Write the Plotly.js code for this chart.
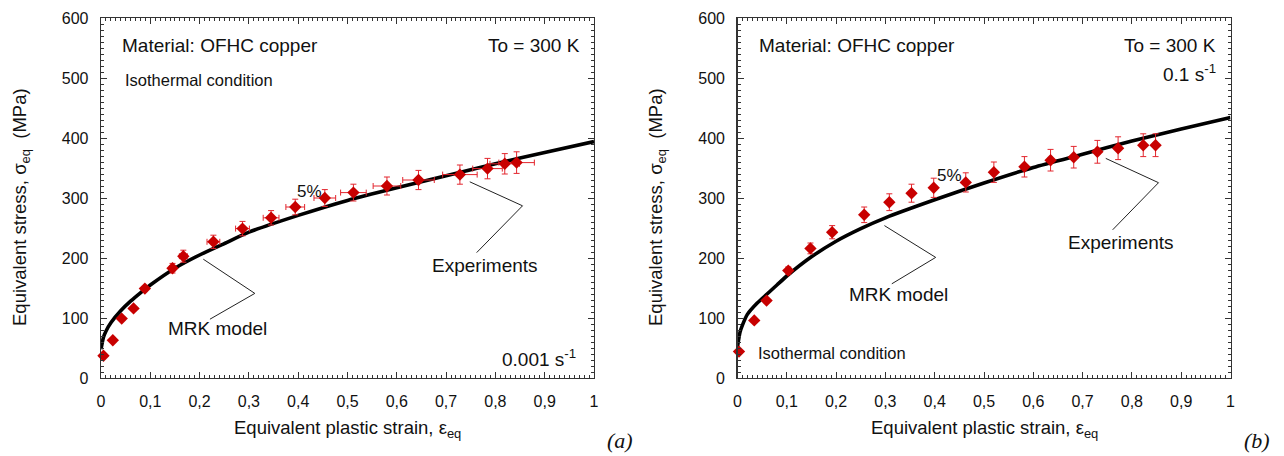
<!DOCTYPE html>
<html>
<head>
<meta charset="utf-8">
<script src="https://cdn.plot.ly/plotly-3.0.1.min.js"></script>
<style>html,body{margin:0;padding:0;background:#fff;}#chart{width:1284px;height:456px;}</style>
</head>
<body>
<div id="chart"></div>
<script>
// ---- Data: (a) 0.001 s^-1 ----
const strainExpA = [0.005,0.024,0.042,0.066,0.089,0.145,0.167,0.228,0.287,0.345,0.394,0.454,0.512,0.580,0.644,0.728,0.784,0.819,0.843];
const stressExpA = [37,63,99,116,149,183,203,227,249,267,285,300,309,320,330,339,349,357,359];
const errStressA = [0,0,0,0,3,8,10,11,12,12,13,14,14,15,16,16,17,17,18];
const errStrainA = [0,0,0,0,0,0.006,0.008,0.013,0.014,0.016,0.019,0.022,0.026,0.028,0.032,0.035,0.030,0.030,0.036];

// ---- Data: (b) 0.1 s^-1 ----
const strainExpB = [0.003,0.034,0.059,0.103,0.148,0.192,0.257,0.308,0.353,0.398,0.463,0.520,0.582,0.635,0.682,0.730,0.772,0.823,0.848];
const stressExpB = [44,96,129,179,216,243,272,293,308,317,326,343,352,363,368,377,383,388,388];
const errStressB = [0,0,0,6,9,11,13,14,15,16,16,17,17,18,18,19,19,19,19];

// ---- MRK model curves ----
const strainModel = [0,0.005,0.01,0.02,0.04,0.06,0.08,0.1,0.15,0.2,0.25,0.3,0.4,0.5,0.6,0.7,0.8,0.9,1.0];
const stressModelA = [48,68,78,92,112,128,142,155,183,205,224,243,271,296,317,337,357,376,394];
const stressModelB = [52,76,88,106,125,140,155,170,202,228,249,267,297,325,351,373,395,415,434];

// ---- Tick labels ----
const xTickVals = [0,0.1,0.2,0.3,0.4,0.5,0.6,0.7,0.8,0.9,1];
const xTickLabels = ["0","0,1","0,2","0,3","0,4","0,5","0,6","0,7","0,8","0,9","1"];
const yTickVals = [0,100,200,300,400,500,600];
const yTickLabels = ["0","100","200","300","400","500","600"];

// intermediate (unlabelled) half-step tick positions
const xHalf = xTickVals.slice(0,-1).map((v,i)=> +((v + xTickVals[i+1]) / 2).toFixed(3));
const yHalf = yTickVals.slice(0,-1).map((v,i)=> (v + yTickVals[i+1]) / 2);

const FONT = 'Liberation Sans, Arial, Helvetica, sans-serif';
const tickFont = {family: FONT, size: 16, color: '#111'};
const AX = '#333';

function xAxis(domain, anchor){
  return {domain, anchor, range:[0,1], tickmode:'array', tickvals:xTickVals, ticktext:xTickLabels,
    ticks:'inside', ticklen:6, tickwidth:1, tickcolor:AX,
    minor:{tickmode:'linear', tick0:0, dtick:0.01, ticks:'inside', ticklen:3, tickwidth:1, tickcolor:AX},
    showline:true, linecolor:AX, linewidth:1.3, mirror:'ticks', showgrid:false, zeroline:false,
    tickfont:tickFont, ticklabelstandoff:8, fixedrange:true};
}
function yAxis(domain, anchor){
  return {domain, anchor, range:[0,600], tickmode:'array', tickvals:yTickVals, ticktext:yTickLabels,
    ticks:'inside', ticklen:6, tickwidth:1, tickcolor:AX,
    minor:{tickmode:'linear', tick0:0, dtick:10, ticks:'inside', ticklen:3, tickwidth:1, tickcolor:AX},
    showline:true, linecolor:AX, linewidth:1.3, mirror:'ticks', showgrid:false, zeroline:false,
    tickfont:tickFont, ticklabelstandoff:8, fixedrange:true};
}
function halfAxis(base, domain, anchor, range, vals){
  return {overlaying:base, domain, anchor, range, tickmode:'array', tickvals:vals,
    ticks:'inside', ticklen:5, tickwidth:1, tickcolor:AX, showticklabels:false,
    showline:false, mirror:'ticks', showgrid:false, zeroline:false, fixedrange:true};
}

const W = 1284, H = 456;
const px = v => v / W, py = v => 1 - v / H;
const yDom = [py(378), py(18)];
const xDomA = [px(101), px(594)], xDomB = [px(737.5), px(1230.5)];

const markerStyle = {symbol:'diamond', size:9.5, color:'#c80000', line:{width:0}};
const errColor = '#e3262e';
const lineStyle = {color:'#000', width:3.6, shape:'spline', smoothing:0.6};

const traces = [
  {x:strainModel, y:stressModelA, xaxis:'x', yaxis:'y', mode:'lines', line:lineStyle, hoverinfo:'skip'},
  {x:strainExpA, y:stressExpA, xaxis:'x', yaxis:'y', mode:'markers', marker:markerStyle, cliponaxis:false,
    error_y:{type:'data', array:errStressA, visible:true, color:errColor, thickness:1, width:3},
    error_x:{type:'data', array:errStrainA, visible:true, color:errColor, thickness:1, width:3}},
  {x:strainModel, y:stressModelB, xaxis:'x2', yaxis:'y2', mode:'lines', line:lineStyle, hoverinfo:'skip'},
  {x:strainExpB, y:stressExpB, xaxis:'x2', yaxis:'y2', mode:'markers', marker:markerStyle, cliponaxis:false,
    error_y:{type:'data', array:errStressB, visible:true, color:errColor, thickness:1, width:3}}
];

const txt = (x, y, text, opts={}) => Object.assign({x, y, text, showarrow:false,
  font:{family:FONT, size:19, color:'#111'}, xanchor:'left', yanchor:'middle'}, opts);
const small = {family:FONT, size:16.5, color:'#111'};
const pct = {family:FONT, size:17, color:'#111'};
const ttl = {family:FONT, size:18.5, color:'#111'};
const serif = {family:'Liberation Serif, Times New Roman, serif', size:22, color:'#111'};

const annotations = [
  // panel (a)
  txt(0.038, 555, 'Material: OFHC copper', {xref:'x', yref:'y'}),
  txt(0.044, 497, 'Isothermal condition', {xref:'x', yref:'y', font:small}),
  txt(0.975, 555, 'To = 300 K', {xref:'x', yref:'y', xanchor:'right'}),
  txt(0.422, 311, '5%', {xref:'x', yref:'y', xanchor:'center', font:pct}),
  txt(0.779, 187, 'Experiments', {xref:'x', yref:'y', xanchor:'center'}),
  txt(0.237, 83, 'MRK model', {xref:'x', yref:'y', xanchor:'center'}),
  txt(0.968, 34, '0.001 s<sup>-1</sup>', {xref:'x', yref:'y', xanchor:'right'}),
  // panel (b)
  txt(0.039, 555, 'Material: OFHC copper', {xref:'x2', yref:'y2'}),
  txt(0.975, 555, 'To = 300 K', {xref:'x2', yref:'y2', xanchor:'right'}),
  txt(0.975, 508, '0.1 s<sup>-1</sup>', {xref:'x2', yref:'y2', xanchor:'right'}),
  txt(0.037, 41, 'Isothermal condition', {xref:'x2', yref:'y2', font:small}),
  txt(0.429, 338, '5%', {xref:'x2', yref:'y2', xanchor:'center', font:pct}),
  txt(0.777, 226, 'Experiments', {xref:'x2', yref:'y2', xanchor:'center'}),
  txt(0.327, 140, 'MRK model', {xref:'x2', yref:'y2', xanchor:'center'}),
  // axis titles
  txt(px(21), py(207), 'Equivalent stress, σ<sub>eq</sub>  (MPa)', {xref:'paper', yref:'paper', xanchor:'center', textangle:-90, font:ttl}),
  txt(px(657), py(207), 'Equivalent stress, σ<sub>eq</sub>  (MPa)', {xref:'paper', yref:'paper', xanchor:'center', textangle:-90, font:ttl}),
  txt(px(348), py(429), 'Equivalent plastic strain, ε<sub>eq</sub>', {xref:'paper', yref:'paper', xanchor:'center', font:ttl}),
  txt(px(985), py(429), 'Equivalent plastic strain, ε<sub>eq</sub>', {xref:'paper', yref:'paper', xanchor:'center', font:ttl}),
  // panel labels
  txt(px(620), py(440), '<i>(a)</i>', {xref:'paper', yref:'paper', xanchor:'center', font:serif}),
  txt(px(1257), py(440), '<i>(b)</i>', {xref:'paper', yref:'paper', xanchor:'center', font:serif})
];

const leader = (xr, yr, pts) => ({type:'path', xref:xr, yref:yr,
  path: 'M' + pts.map(p => p[0] + ',' + p[1]).join('L'), line:{color:'#222', width:1}});

const shapes = [
  leader('x','y', [[0.748,327],[0.855,287],[0.762,209]]),
  leader('x','y', [[0.2075,198],[0.312,141],[0.221,98]]),
  leader('x2','y2', [[0.747,366],[0.854,325.5],[0.761,247]]),
  leader('x2','y2', [[0.298,254],[0.402,201],[0.313,157]])
];

const layout = {
  width:W, height:H, margin:{l:0, r:0, t:0, b:0}, paper_bgcolor:'#fff', plot_bgcolor:'#fff',
  showlegend:false,
  xaxis: xAxis(xDomA, 'y'),
  yaxis: yAxis(yDom, 'x'),
  xaxis2: xAxis(xDomB, 'y2'),
  yaxis2: yAxis(yDom, 'x2'),
  xaxis3: halfAxis('x', xDomA, 'y', [0,1], xHalf),
  yaxis3: halfAxis('y', yDom, 'x', [0,600], yHalf),
  xaxis4: halfAxis('x2', xDomB, 'y2', [0,1], xHalf),
  yaxis4: halfAxis('y2', yDom, 'x2', [0,600], yHalf),
  annotations, shapes
};

Plotly.newPlot('chart', traces, layout, {staticPlot:true, displayModeBar:false});
</script>
</body>
</html>
